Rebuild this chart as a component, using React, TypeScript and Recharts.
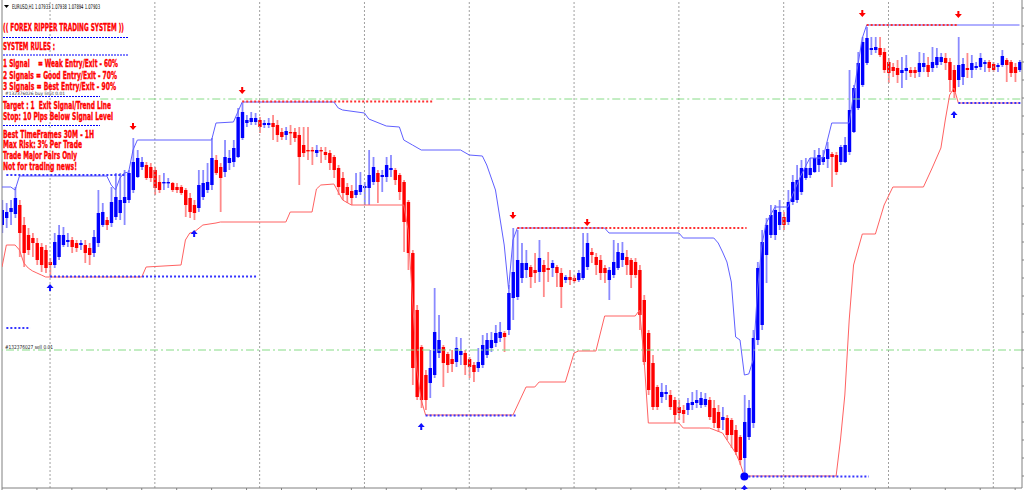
import React from "react";
import { ComposedChart, XAxis, YAxis, Bar, Line, ReferenceLine, ReferenceDot } from "recharts";

document.body.style.margin = "0";

// EURUSD H1 candles, prices in pips (divide by 10000)
const opens = [
  10711.5, 10715, 10718, 10717, 10721.5, 10711.5, 10706.5, 10705, 10702.5, 10700.5,
  10699, 10693, 10691.5, 10695.5, 10701.5, 10703, 10704, 10702.5, 10701.5, 10701.5,
  10700, 10697.5, 10702.5, 10711.5, 10714, 10712.5, 10715.5, 10717.5, 10722.5, 10724,
  10729, 10735.5, 10740.5, 10741.5, 10740.5, 10739, 10733, 10732.5, 10732.5, 10732.5,
  10730.5, 10730.5, 10729, 10725, 10721.5, 10720, 10725.5, 10729, 10731.5, 10744,
  10740.5, 10738, 10742.5, 10743, 10745.5, 10755, 10762.5, 10763, 10763, 10764,
  10761.5, 10761.5, 10762.5, 10761.5, 10758, 10756.5, 10758, 10758, 10756.5, 10751.5,
  10749, 10749, 10747.5, 10749, 10748, 10747.5, 10745.5, 10740, 10735, 10730.5,
  10728.5, 10726.5, 10728, 10730, 10730, 10733, 10737.5, 10735.5, 10735.5, 10739,
  10739, 10736.5, 10733, 10723, 10697.5, 10669, 10650.5, 10636.5, 10632.5, 10636.5,
  10647.5, 10650.5, 10647, 10644.5, 10643, 10646.5, 10647.5, 10644.5, 10641.5, 10640,
  10641.5, 10646.5, 10650, 10652.5, 10655, 10657.5, 10659, 10675, 10675.5, 10685,
  10689, 10690.5, 10689, 10688, 10691.5, 10690, 10690, 10690.5, 10687.5, 10684,
  10685.5, 10685, 10684, 10685, 10690.5, 10698, 10695.5, 10694, 10690, 10684,
  10686.5, 10690, 10694, 10695.5, 10694, 10693, 10689, 10674, 10657.5, 10642.5,
  10630.5, 10625.5, 10627, 10626.5, 10624, 10620.5, 10619, 10619, 10621.5, 10622.5,
  10621.5, 10621.5, 10624, 10620, 10618, 10614, 10615, 10614, 10609, 10605.5,
  10595, 10605.5, 10612.5, 10654, 10661.5, 10696.5, 10706.5, 10706.5, 10711.5, 10715.5,
  10713, 10723, 10724, 10728, 10735, 10736.5, 10738, 10741.5, 10743, 10744.5,
  10747, 10746.5, 10743, 10743, 10748, 10758, 10770, 10781.5, 10792.5, 10799,
  10799, 10800, 10798, 10793, 10790.5, 10790, 10787.5, 10788.5, 10789, 10789,
  10788, 10790.5, 10791.5, 10790, 10791.5, 10793, 10795, 10793, 10789, 10784,
  10785.5, 10790, 10789, 10790, 10790.5, 10792, 10793, 10792, 10790.5, 10791.5,
  10794, 10793, 10790.5, 10789,
];
const highs = [
  10724, 10722.5, 10724, 10730.5, 10724, 10715.5, 10710, 10707.5, 10705, 10702.5,
  10701.5, 10695, 10707.5, 10711.5, 10710.5, 10707.5, 10705.5, 10704, 10704, 10704,
  10702.5, 10709, 10729, 10722.5, 10715.5, 10730.5, 10737.5, 10737.5, 10739, 10739,
  10755, 10749, 10745.5, 10743, 10742.5, 10740.5, 10736.5, 10737.5, 10735, 10733,
  10732.5, 10731.5, 10730, 10727.5, 10724, 10739, 10739, 10742.5, 10755, 10746.5,
  10742.5, 10754, 10749, 10754, 10770, 10772.5, 10766.5, 10768, 10767.5, 10765.5,
  10764, 10765, 10766.5, 10764, 10760, 10760.5, 10761.5, 10760, 10760.5, 10760.5,
  10760.5, 10750.5, 10751.5, 10750.5, 10750.5, 10749, 10746.5, 10741.5, 10738, 10732.5,
  10731.5, 10737.5, 10738, 10733, 10749, 10745.5, 10739, 10739, 10745.5, 10746.5,
  10740, 10737.5, 10734, 10724, 10699, 10671.5, 10651.5, 10639, 10649, 10680,
  10666.5, 10651.5, 10648, 10649, 10655.5, 10655, 10649, 10645.5, 10643, 10650,
  10656.5, 10657.5, 10658, 10661.5, 10663, 10658.5, 10681.5, 10710, 10709, 10702.5,
  10699, 10691.5, 10697.5, 10704, 10694, 10698, 10694, 10691.5, 10690, 10686.5,
  10689, 10686.5, 10689, 10707.5, 10707.5, 10700, 10697.5, 10696.5, 10691.5, 10690.5,
  10704, 10702.5, 10703, 10699, 10695, 10695, 10691.5, 10676.5, 10659, 10646.5,
  10631.5, 10632.5, 10631.5, 10629, 10625.5, 10624, 10621.5, 10625, 10628, 10629,
  10628, 10627.5, 10625.5, 10624, 10621.5, 10620.5, 10616.5, 10615, 10611.5, 10606.5,
  10626.5, 10624, 10659, 10693, 10709, 10715, 10721.5, 10721.5, 10724, 10718,
  10729, 10736.5, 10741.5, 10744, 10745, 10745, 10749, 10750, 10749, 10753,
  10748, 10748, 10751.5, 10755.5, 10789, 10781.5, 10798, 10805.5, 10810.5, 10805.5,
  10805.5, 10805.5, 10800, 10795, 10792.5, 10794, 10795.5, 10796.5, 10790.5, 10790.5,
  10798, 10797.5, 10795.5, 10800.5, 10800, 10797.5, 10797.5, 10795, 10791.5, 10805.5,
  10795, 10797.5, 10796.5, 10793, 10797.5, 10794, 10794, 10793, 10792.5, 10799,
  10795, 10794, 10792.5, 10794,
];
const lows = [
  10707.5, 10710, 10711.5, 10715, 10695.5, 10690.5, 10696.5, 10695.5, 10691.5, 10688,
  10687.5, 10685.5, 10690, 10694, 10700.5, 10700.5, 10697.5, 10698, 10699, 10692.5,
  10691.5, 10695.5, 10700.5, 10710.5, 10709, 10710.5, 10714, 10714, 10711.5, 10722.5,
  10727.5, 10735, 10739, 10734, 10733, 10726.5, 10727.5, 10729, 10730, 10728,
  10727.5, 10726.5, 10715.5, 10715, 10714, 10718, 10724, 10727.5, 10729, 10736.5,
  10718, 10735.5, 10739, 10740.5, 10745, 10754, 10760.5, 10761.5, 10761.5, 10757.5,
  10760, 10760, 10754, 10753, 10754, 10754, 10751.5, 10753, 10731.5, 10745.5,
  10744, 10741.5, 10745.5, 10742.5, 10744, 10739, 10735, 10726.5, 10724, 10722.5,
  10721.5, 10725, 10726.5, 10721.5, 10721.5, 10731.5, 10722.5, 10728, 10733, 10735.5,
  10731.5, 10724, 10698, 10689, 10631.5, 10624, 10620, 10619, 10625, 10635,
  10645, 10630.5, 10637.5, 10638, 10640.5, 10641.5, 10636.5, 10635, 10633, 10638,
  10640, 10645, 10648, 10650.5, 10653, 10648, 10656.5, 10664, 10674, 10682.5,
  10685, 10680, 10682.5, 10683, 10675.5, 10683, 10685.5, 10680.5, 10670, 10682.5,
  10681.5, 10682.5, 10683, 10684, 10689, 10692.5, 10686.5, 10684, 10682.5, 10674,
  10685, 10689, 10690.5, 10686.5, 10680, 10685, 10659, 10641.5, 10626.5, 10619,
  10619, 10622.5, 10624, 10619, 10612.5, 10614, 10612.5, 10616.5, 10619, 10620,
  10620, 10620.5, 10614, 10610, 10608, 10609, 10604, 10600, 10596.5, 10591.5,
  10585.5, 10604, 10610, 10651.5, 10659, 10682.5, 10705, 10704, 10709, 10709,
  10711.5, 10721.5, 10722.5, 10726.5, 10734, 10735, 10737.5, 10738, 10741.5, 10740,
  10730.5, 10736.5, 10741.5, 10742.5, 10746.5, 10757.5, 10769, 10780.5, 10791.5, 10796.5,
  10797.5, 10795.5, 10787.5, 10782.5, 10785.5, 10782.5, 10780, 10784, 10785.5, 10785,
  10785.5, 10788, 10785.5, 10788, 10790, 10791.5, 10789, 10778, 10775, 10780.5,
  10781.5, 10785, 10785, 10789, 10789, 10788, 10788, 10788, 10788, 10790.5,
  10783, 10785.5, 10783, 10788,
];
const closes = [
  10719, 10718, 10720, 10725, 10707.5, 10697.5, 10699, 10702.5, 10694, 10691.5,
  10690, 10691.5, 10703, 10706.5, 10706.5, 10704, 10700.5, 10700, 10702.5, 10697.5,
  10696.5, 10705.5, 10717.5, 10718, 10711.5, 10723, 10725.5, 10724, 10725.5, 10737.5,
  10743, 10745, 10743, 10735, 10735, 10730, 10729, 10733, 10733, 10729,
  10729, 10727.5, 10721.5, 10718, 10717.5, 10731.5, 10732.5, 10733, 10745, 10737.5,
  10735, 10745.5, 10745, 10750, 10765.5, 10768, 10764, 10765, 10765, 10760.5,
  10762.5, 10762.5, 10760.5, 10756.5, 10755.5, 10758.5, 10757.5, 10755, 10745.5, 10747.5,
  10748.5, 10748.5, 10749, 10748.5, 10746.5, 10742.5, 10739, 10730.5, 10727.5, 10726.5,
  10725, 10729, 10731.5, 10731, 10736.5, 10740.5, 10733, 10736.5, 10741.5, 10740,
  10734, 10728, 10713, 10697.5, 10640, 10625.5, 10624, 10624, 10640, 10658,
  10654, 10642.5, 10641.5, 10642, 10650, 10648.5, 10641.5, 10640.5, 10638, 10643,
  10651.5, 10654, 10654, 10657.5, 10658, 10655.5, 10677.5, 10688, 10694, 10692.5,
  10692.5, 10685.5, 10687.5, 10695, 10688, 10689, 10692.5, 10687.5, 10680.5, 10685.5,
  10684, 10683.5, 10687.5, 10695.5, 10702.5, 10696.5, 10691.5, 10687.5, 10687.5, 10689,
  10693, 10698, 10697.5, 10691.5, 10686.5, 10686.5, 10666.5, 10643, 10629, 10620.5,
  10620.5, 10628, 10628, 10620.5, 10616.5, 10617.5, 10617, 10622.5, 10623, 10624,
  10625, 10624.5, 10615.5, 10612.5, 10610, 10615.5, 10606.5, 10606.5, 10598, 10594,
  10613, 10620, 10655, 10690, 10703, 10711.5, 10716.5, 10719, 10718, 10711.5,
  10723, 10733, 10734, 10740, 10740, 10740, 10745, 10746.5, 10745.5, 10749.5,
  10745.5, 10738, 10750.5, 10751.5, 10769, 10780, 10792.5, 10803, 10805, 10800,
  10800.5, 10796.5, 10789, 10787.5, 10788.5, 10786.5, 10789, 10790, 10787.5, 10787.5,
  10792.5, 10792.5, 10788, 10793, 10795.5, 10795.5, 10792.5, 10784, 10778, 10791.5,
  10792, 10789, 10792.5, 10791, 10795, 10793, 10790, 10789, 10791.5, 10796,
  10791.5, 10787.5, 10787.5, 10793,
];

// trend lines: [bar, pips] break points
const upperLine: [number, number][] = [
  [0, 10730.5], [2, 10730.5], [3, 10729], [4, 10736], [24, 10736], [25, 10731.5], [26, 10729],
  [27, 10735], [28, 10737.5], [29, 10738], [30, 10749], [31, 10754], [48, 10754], [49, 10762.5],
  [53, 10763], [54, 10768], [55, 10773], [76, 10773], [77, 10770], [78, 10769], [83, 10767.5],
  [84, 10764.5], [88, 10761], [91, 10760.5], [92, 10754], [94, 10751.5], [96, 10749], [105, 10749],
  [107, 10746.5], [110, 10746], [111, 10741.5], [113, 10729], [115, 10701.5], [116, 10679.5],
  [117, 10704], [118, 10710], [138, 10710], [139, 10707.5], [155, 10707.5], [156, 10705],
  [163, 10705], [164, 10702.5], [165, 10698], [166, 10693], [167, 10683], [168, 10655.5],
  [169, 10654], [170, 10636.5], [171, 10637], [172, 10644], [173, 10679], [174, 10701.5],
  [175, 10712.5], [177, 10720.5], [180, 10720.5], [181, 10726.5], [183, 10736.5], [185, 10745],
  [188, 10745], [190, 10762.5], [194, 10762.5], [196, 10791.5], [197, 10805], [198, 10811.5],
  [233, 10811.5],
];
const lowerLine: [number, number][] = [
  [0, 10690.5], [1, 10701.5], [3, 10701.5], [4, 10699], [5, 10692.5], [6, 10690], [7, 10688.5],
  [8, 10687.5], [9, 10686.5], [10, 10685.5], [32, 10685.5], [33, 10690.5], [41, 10691.5],
  [42, 10704], [43, 10707.5], [44, 10708], [46, 10711.5], [49, 10712.5], [50, 10713], [65, 10713],
  [66, 10718], [71, 10718], [72, 10729.5], [73, 10731.5], [76, 10732], [78, 10724], [80, 10721.5],
  [92, 10721.5], [93, 10709], [94, 10674], [95, 10639], [96, 10624], [97, 10616.5], [117, 10616.5],
  [120, 10630.5], [122, 10630.5], [123, 10633], [129, 10633], [131, 10647.5], [132, 10648.5],
  [136, 10648.5], [138, 10666], [145, 10666], [146, 10669], [147, 10645.5], [148, 10612.5],
  [155, 10612.5], [156, 10610], [162, 10610], [165, 10607.5], [166, 10604], [168, 10597.5],
  [169, 10592.5], [170, 10586], [191, 10586], [192, 10604], [193, 10626.5], [194, 10664],
  [195, 10691.5], [197, 10707], [200, 10707], [202, 10721.5], [204, 10730.5], [211, 10730.5],
  [213, 10740], [215, 10750], [216, 10764], [217, 10776.5], [218, 10780], [219, 10772.5],
  [233, 10772.5],
];

// signal arrows [bar, pips]
const buySignals: [number, number][] = [[11, 10680.5], [44, 10707.5], [96, 10611], [170, 10580], [218, 10767]];
const sellSignals: [number, number][] = [[30, 10760.5], [55, 10778.5], [117, 10716], [134, 10712.5], [197, 10817], [219, 10816.5]];

// signal levels [fromBar, toBar, pips]
const buyLevels: [number, number, number][] = [
  [1, 28.5, 10736.5], [11, 58.5, 10685.75], [1, 6.5, 10660], [97, 118, 10616.25],
  [170, 198.5, 10585.75], [219, 233.5, 10772.5],
];
const sellLevels: [number, number, number][] = [[55, 98.5, 10773.25], [118, 170.5, 10710], [198, 219, 10811.5]];
const entryDot: [number, number] = [170, 10585.75];

const buyLimitOrder: [number, number] = [22.5, 10774.5];
const sellOrder = 10649;

const dayStarts = [11, 35, 59, 83, 107, 131, 155, 179, 203, 227];
const timeTicks = [0, 8, 16, 24, 32, 40, 48, 56, 64, 72, 80, 88, 96, 104, 112, 120, 128, 136, 144, 152, 160, 168, 176, 184, 192, 200, 208, 216, 224, 232];
const priceTicks = [
  10820, 10811, 10802, 10793, 10784, 10775, 10766, 10757, 10748, 10739, 10730, 10721, 10712, 10703,
  10694, 10685, 10676, 10667, 10658, 10649, 10640, 10631, 10622, 10613, 10604, 10595, 10586,
];

const header = "EURUSD,H1  1.07933  1.07938  1.07894  1.07903";
const ruleText = [
  "(( FOREX RIPPER TRADING SYSTEM ))",
  "SYSTEM RULES :",
  "1 Signal    = Weak Entry/Exit - 60%",
  "2 Signals = Good Entry/Exit - 70%",
  "3 Signals = Best Entry/Exit - 90%",
  "Target : 1  Exit Signal/Trend Line",
  "Stop: 10 Pips Below Signal Level",
  "Best TimeFrames 30M - 1H",
  "Max Risk: 3% Per Trade",
  "Trade Major Pairs Only",
  "Not for trading news!",
];
const buyLimitLabel = "#132376026 buy limit 0.01";
const sellLabel = "#132376027 sell 0.01";

const P = (v: number) => v / 10000;
const upperMap = new Map(upperLine);
const lowerMap = new Map(lowerLine);
const rows = opens.map((o, i) => ({
  i,
  open: P(o),
  high: P(highs[i]),
  low: P(lows[i]),
  close: P(closes[i]),
  range: [P(lows[i]), P(highs[i])],
  upper: upperMap.has(i) ? P(upperMap.get(i)!) : null,
  lower: lowerMap.has(i) ? P(lowerMap.get(i)!) : null,
}));

const Candle = (props: any) => {
  const { x, y, width, height, payload } = props;
  if (!payload || height == null) return null;
  const { open, close, high, low } = payload;
  const top = Math.min(y, y + height);
  const h = Math.abs(height);
  const k = h / (high - low || 1e-9);
  const py = (v: number) => top + (high - v) * k;
  const cx = x + width / 2;
  const up = close >= open;
  const yo = py(open);
  const yc = py(close);
  return (
    <g>
      <line x1={cx} x2={cx} y1={top} y2={top + h} stroke={up ? "#8a8aff" : "#ff8a8a"} strokeWidth={1.8} />
      <rect x={cx - 1.7} y={Math.min(yo, yc)} width={3.4} height={Math.max(1.4, Math.abs(yo - yc))} fill={up ? "#0000ff" : "#ff0000"} />
    </g>
  );
};

const SellArrow = (p: any) => (
  <path d={`M${p.cx - 1},${p.cy - 4} h2 v3 h2.5 l-3.5,4 l-3.5,-4 h2.5 z`} fill="#ff0000" />
);
const BuyArrow = (p: any) => (
  <path d={`M${p.cx - 1},${p.cy + 4} h2 v-3 h2.5 l-3.5,-4 l-3.5,4 h2.5 z`} fill="#1010ff" />
);

const ruleLayout = [
  [31, 121], [49.5, 52], [67, 115], [78.5, 114], [89.5, 113], [108.5, 108],
  [120, 110], [137.5, 91], [148, 79], [158.5, 74], [169.5, 74],
];

export default function App() {
  return (
    <div style={{ position: "relative", width: 1024, height: 490, background: "#fff", overflow: "hidden" }}>
      <ComposedChart width={1024} height={490} data={rows} margin={{ top: 0, right: 0, bottom: 0, left: 2 }}>
        <XAxis
          dataKey="i"
          type="number"
          scale="linear"
          domain={[0, 233.57]}
          allowDataOverflow
          ticks={timeTicks}
          interval={0}
          tickFormatter={() => ""}
          height={2}
          tickSize={3}
          axisLine={{ stroke: "#808080" }}
          tickLine={{ stroke: "#808080" }}
        />
        <YAxis
          orientation="right"
          type="number"
          scale="linear"
          domain={[1.058, 1.0824]}
          allowDataOverflow
          ticks={priceTicks.map(P)}
          interval={0}
          tickFormatter={() => ""}
          width={2}
          tickSize={3}
          axisLine={{ stroke: "#808080" }}
          tickLine={{ stroke: "#808080" }}
        />
        <ReferenceLine x={0} stroke="#808080" />
        {dayStarts.map((d) => (
          <ReferenceLine key={"d" + d} x={d} stroke="#a0a0a0" strokeDasharray="2 2" />
        ))}
        <ReferenceLine y={P(sellOrder)} stroke="#86dc86" strokeDasharray="8 3 2 3" />
        <ReferenceLine
          segment={[{ x: buyLimitOrder[0], y: P(buyLimitOrder[1]) }, { x: 233.57, y: P(buyLimitOrder[1]) }]}
          stroke="#86dc86"
          strokeDasharray="8 3 2 3"
        />
        <Bar dataKey="range" barSize={3} shape={Candle} isAnimationActive={false} />
        <Line dataKey="upper" type="linear" stroke="#6060ff" strokeWidth={1} dot={false} connectNulls isAnimationActive={false} />
        <Line dataKey="lower" type="linear" stroke="#ff6262" strokeWidth={1} dot={false} connectNulls isAnimationActive={false} />
        {buyLevels.map(([a, b, v], k) => (
          <ReferenceLine key={"bl" + k} segment={[{ x: a, y: P(v) }, { x: b, y: P(v) }]} stroke="#3535ff" strokeWidth={2} strokeDasharray="2 2" />
        ))}
        {sellLevels.map(([a, b, v], k) => (
          <ReferenceLine key={"sl" + k} segment={[{ x: a, y: P(v) }, { x: b, y: P(v) }]} stroke="#ff3030" strokeWidth={2} strokeDasharray="2 2" />
        ))}
        <ReferenceDot x={entryDot[0]} y={P(entryDot[1])} r={4} fill="#0000ff" stroke="none" />
        {buySignals.map(([b, v], k) => (
          <ReferenceDot key={"ba" + k} x={b} y={P(v)} r={3} shape={BuyArrow} />
        ))}
        {sellSignals.map(([b, v], k) => (
          <ReferenceDot key={"sa" + k} x={b} y={P(v)} r={3} shape={SellArrow} />
        ))}
      </ComposedChart>
      <svg width={1024} height={490} style={{ position: "absolute", left: 0, top: 0, pointerEvents: "none" }}>
        <path d="M4,5 h5 l-2.5,3 z" fill="#000" />
        <text x={12} y={9} fontSize={6.5} fontFamily="'DejaVu Sans', sans-serif" fill="#000" textLength={88} lengthAdjust="spacingAndGlyphs">
          {header}
        </text>
        {ruleText.map((t, k) => (
          <text
            key={k}
            x={3}
            y={ruleLayout[k][0]}
            fontSize={10.5}
            fontWeight="bold"
            fontFamily="'Liberation Sans Narrow', 'DejaVu Sans Condensed', 'Liberation Sans', sans-serif"
            fill="#ff0000"
            stroke="#ff0000"
            strokeWidth={0.35}
            textLength={ruleLayout[k][1]}
            lengthAdjust="spacingAndGlyphs"
            style={{ whiteSpace: "pre" }}
          >
            {t}
          </text>
        ))}
        <line x1={3} x2={128} y1={37.5} y2={37.5} stroke="#0000ff" strokeDasharray="2 1" />
        <line x1={3} x2={128} y1={55} y2={55} stroke="#0000ff" strokeDasharray="2 1" />
        <line x1={3} x2={100} y1={96.5} y2={96.5} stroke="#0000ff" strokeDasharray="2 1" />
        <line x1={3} x2={100} y1={125.5} y2={125.5} stroke="#0000ff" strokeDasharray="2 1" />
        <text x={5} y={95} fontSize={4.5} fontFamily="'DejaVu Sans', sans-serif" fill="#333" textLength={60} lengthAdjust="spacingAndGlyphs">
          {buyLimitLabel}
        </text>
        <text x={5} y={348.5} fontSize={5.5} fontFamily="'DejaVu Sans', sans-serif" fill="#222" textLength={48} lengthAdjust="spacingAndGlyphs">
          {sellLabel}
        </text>
      </svg>
    </div>
  );
}
